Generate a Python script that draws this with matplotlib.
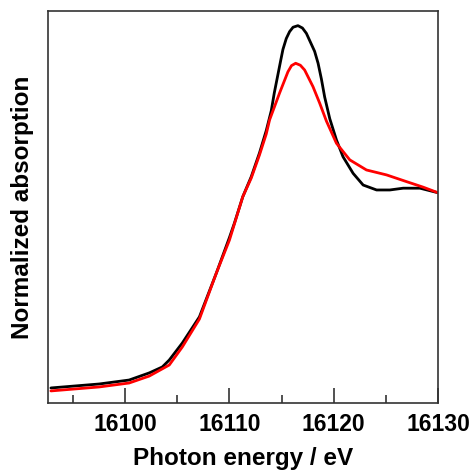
import matplotlib
matplotlib.use("Agg")
import matplotlib.pyplot as plt
from matplotlib.ticker import MultipleLocator

# photon energy (eV) and normalized absorption
e_black = [16092.88, 16097.5, 16100.38, 16102.31, 16103.56, 16104.23, 16105.48, 16107.12,
           16108.75, 16110.0, 16110.48, 16111.28, 16112.09, 16112.88, 16113.53, 16114.01,
           16114.3, 16114.6, 16114.9, 16115.13, 16115.45, 16115.77, 16116.1, 16116.57,
           16117.0, 16117.38, 16118.17, 16118.5, 16118.82, 16119.13, 16119.62, 16120.26,
           16120.89, 16121.86, 16122.82, 16124.11, 16125.38, 16126.66, 16128.27, 16130.0]
mu_black = [0.0, 0.02, 0.04, 0.076, 0.106, 0.141, 0.227, 0.359,
            0.581, 0.76, 0.833, 0.966, 1.067, 1.187, 1.30, 1.40,
            1.49, 1.57, 1.65, 1.71, 1.765, 1.80, 1.822, 1.83,
            1.818, 1.791, 1.70, 1.64, 1.56, 1.47, 1.36, 1.253,
            1.168, 1.084, 1.025, 1.0, 1.0, 1.009, 1.009, 0.986]

e_red = [16092.88, 16097.5, 16100.38, 16102.31, 16104.23, 16105.48, 16107.12, 16108.75,
         16110.0, 16111.28, 16112.09, 16112.88, 16113.53, 16113.85, 16114.81, 16115.61,
         16115.95, 16116.35, 16116.8, 16117.21, 16118.01, 16118.65, 16119.3, 16120.26,
         16121.54, 16123.14, 16125.07, 16126.99, 16128.59, 16130.0]
mu_red = [-0.015, 0.005, 0.025, 0.06, 0.116, 0.207, 0.348, 0.581,
          0.747, 0.966, 1.06, 1.177, 1.283, 1.354, 1.49, 1.597,
          1.628, 1.64, 1.63, 1.606, 1.522, 1.439, 1.348, 1.236,
          1.152, 1.101, 1.076, 1.042, 1.014, 0.986]

plt.rcParams['font.family'] = ['Liberation Sans', 'DejaVu Sans']
plt.rcParams['font.weight'] = 'bold'

fig = plt.figure(figsize=(4.72, 4.70), dpi=100)
ax = fig.add_axes([48 / 472, 67 / 470, 390 / 472, 392 / 470])

ax.plot(e_black, mu_black, color='black', lw=2.0, solid_joinstyle='round',
        solid_capstyle='round')
ax.plot(e_red, mu_red, color='#ff0000', lw=2.0, solid_joinstyle='round',
        solid_capstyle='round')

ax.set_xlim(16092.6, 16130.0)
ax.set_ylim(-0.076, 1.904)
ax.xaxis.set_major_locator(MultipleLocator(10))
ax.xaxis.set_minor_locator(MultipleLocator(5))
ax.set_yticks([])
ax.tick_params(axis='x', which='major', direction='in', length=11, width=1.2,
               color='#333333', labelsize=16.5, pad=7)
ax.tick_params(axis='x', which='minor', direction='in', length=6, width=1.2,
               color='#333333')
for s in ax.spines.values():
    s.set_color('#333333')
    s.set_linewidth(1.2)

ax.set_xlabel('Photon energy / eV', fontsize=17.5, fontweight='bold', labelpad=8)
ax.set_ylabel('Normalized absorption', fontsize=17.5, fontweight='bold', labelpad=10)

fig.savefig('out.png', dpi=100)
